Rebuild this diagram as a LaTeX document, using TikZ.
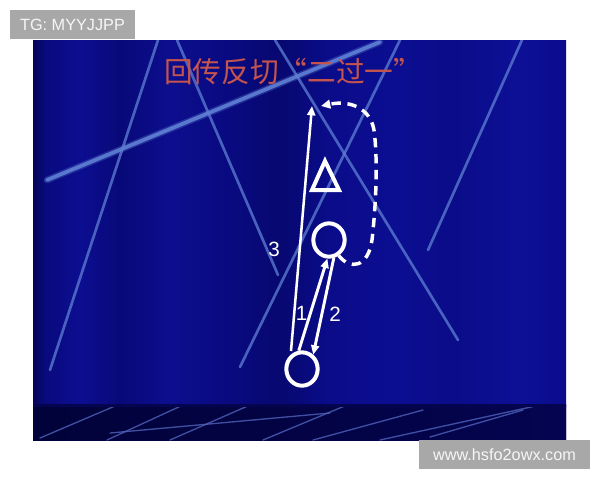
\documentclass[tikz,border=0pt]{standalone}
\usepackage{fontspec}
\setmainfont{Liberation Sans}
\newfontfamily\cjkfont{Noto Sans CJK SC}
\usetikzlibrary{shapes.geometric,arrows.meta}
\definecolor{s0}{RGB}{5,5,88}
\definecolor{s1}{RGB}{9,10,125}
\definecolor{s2}{RGB}{12,14,145}
\definecolor{s3}{RGB}{8,9,120}
\definecolor{s4}{RGB}{12,14,142}
\definecolor{s5}{RGB}{9,10,128}
\definecolor{s6}{RGB}{7,8,112}
\definecolor{s7}{RGB}{10,12,138}
\definecolor{s8}{RGB}{12,14,146}
\definecolor{s9}{RGB}{10,12,136}
\definecolor{s10}{RGB}{13,16,150}
\definecolor{s11}{RGB}{10,12,140}
\definecolor{banddark}{RGB}{2,2,58}
\definecolor{bandmid}{RGB}{4,4,80}
\definecolor{bandline}{RGB}{175,185,225}
\definecolor{streak}{RGB}{95,128,212}
\definecolor{bandstreak}{RGB}{85,105,195}
\definecolor{titlered}{RGB}{196,84,78}
\definecolor{wmgray}{RGB}{168,168,168}
\definecolor{wmtext}{RGB}{246,246,246}
\pgfdeclarehorizontalshading{slideshade}{100bp}{color(0bp)=(s0); color(25bp)=(s0); color(26.13bp)=(s1); color(29.41bp)=(s2); color(33.16bp)=(s3); color(37.85bp)=(s4); color(43.48bp)=(s5); color(48.17bp)=(s6); color(52.86bp)=(s7); color(59.43bp)=(s8); color(64.12bp)=(s9); color(70.68bp)=(s10); color(75bp)=(s11); color(100bp)=(s11)}
\tikzset{
  beam/.style={draw=streak, line width=2pt, line cap=round, opacity=0.75},
  glow/.style={draw=streak, line width=5pt, line cap=round, opacity=0.3},
  bigbeam/.style={draw=streak, line width=2.8pt, line cap=round, opacity=0.9},
  bandbeam/.style={draw=bandstreak, line width=1pt, line cap=round, opacity=0.75},
  ring/.style={ellipse, draw=white, line width=3pt, minimum width=23.5pt, minimum height=25pt, inner sep=0pt},
  shapeline/.style={draw=white, line width=3pt, line join=miter},
  pass/.style={draw=white, line width=2.2pt, -{Triangle[length=7pt,width=6pt]}},
  run/.style={draw=white, line width=1.9pt, -{Triangle[length=7pt,width=6pt]}},
  dribble/.style={draw=white, line width=2.6pt, dash pattern=on 7pt off 5pt, -{Triangle[length=7pt,width=6.5pt]}},
  numlabel/.style={text=white, font=\fontsize{15.5}{18}\selectfont, inner sep=0pt},
  wmbox/.style={fill=wmgray, text=wmtext, inner sep=0pt, font=\fontsize{12.2}{14}\selectfont}
}
\begin{document}
\begin{tikzpicture}[x=0.75pt,y=-0.75pt]
\useasboundingbox (0,0) rectangle (600,480);
\fill[white] (0,0) rectangle (600,480);
% slide background
\shade[shading=slideshade] (33,40) rectangle (566,440);
\begin{scope}
  \clip (33,40) rectangle (566,405);
  \draw[beam] (158,40) -- (50,370);
  \draw[beam] (177,40) -- (278,275);
  \draw[beam] (275,40) -- (458,340);
  \draw[beam] (400,40) -- (240,367);
  \draw[beam] (522,40) -- (428,250);
  \draw[glow] (47,180) -- (380,42);
  \draw[bigbeam] (47,180) -- (380,42);
\end{scope}
% bottom band
\shade[left color=banddark, right color=bandmid] (33,405) rectangle (566,440);
\begin{scope}
  \clip (33,405) rectangle (566,440);
  \draw[bandbeam] (40,438) -- (115,406);
  \draw[bandbeam] (107,440) -- (183,405);
  \draw[bandbeam] (170,440) -- (250,405);
  \draw[bandbeam] (110,433) -- (330,413);
  \draw[bandbeam] (263,440) -- (347,405);
  \draw[bandbeam] (313,440) -- (423,410);
  \draw[bandbeam] (380,440) -- (540,405);
  \draw[bandbeam] (430,437) -- (523,410);
\end{scope}
\shade[left color=bandmid, middle color=bandline, right color=bandmid] (33,404.2) rectangle (566,406);
% title
\node[text=titlered, font=\cjkfont\fontsize{21.5}{24}\selectfont, inner sep=0pt] (title) at (293,72) {回传反切“二过一”};
% players
\node[ring] (bottomO) at (302,369) {};
\node[ring] (midO) at (329,240) {};
\draw[shapeline] (325,161) -- (339,190) -- (312,190) -- cycle;
\coordinate (tri) at (325,180);
% runs and passes
\coordinate (runstart) at (291,351);
\coordinate (runend) at (312,106);
\draw[run] (runstart) -- (runend);
\draw[pass] (bottomO.100) -- (midO.265);
\draw[pass] (midO.285) -- (bottomO.52);
\coordinate (dribend) at (321,106);
\draw[dribble] (midO.-58) .. controls (350,270) and (368,268) .. (372,240)
  .. controls (376,205) and (378,160) .. (374,130)
  .. controls (370,108) and (350,100) .. (dribend);
% labels
\node[numlabel] (l1) at (301.5,313) {1};
\node[numlabel] (l2) at (335,314) {2};
\node[numlabel] (l3) at (274,249) {3};
% watermarks
\node[wmbox, minimum width=93.75pt, minimum height=21.75pt] (wm1) at (72.5,24.5) {TG: MYYJJPP};
\node[wmbox, minimum width=128.25pt, minimum height=21.75pt] (wm2) at (504.5,454.5) {www.hsfo2owx.com};
\end{tikzpicture}
\end{document}
